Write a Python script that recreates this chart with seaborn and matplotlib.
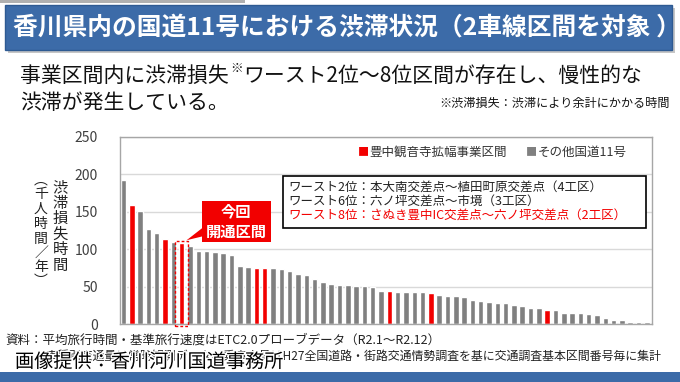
import numpy as np
import pandas as pd
import matplotlib.pyplot as plt
import matplotlib.patches as mpatches
import matplotlib.patheffects as pe
import seaborn as sns

# Data: congestion loss per section, sorted by rank (thousand person-hours / year)
values = [192, 159, 151, 127, 122, 113, 110, 108, 104, 98, 97, 96, 95, 92, 77, 76,
          75, 75, 74.5, 74, 70.5, 67, 65, 60, 56.5, 54, 51.6, 51.5, 51, 51, 49, 44,
          43.6, 43.2, 43.2, 43.2, 42.5, 42, 38.7, 38, 37, 35.7, 32.5, 30.2, 30, 28,
          28, 25.8, 24.7, 21.4, 21, 19, 18.2, 15.1, 15, 14.2, 14, 12, 8, 5.7, 5.3, 3,
          2.7, 2.7]
project_ranks = [2, 6, 8, 17, 18, 33, 38, 52]
group_names = ["豊中観音寺拡幅事業区間", "その他国道11号"]
yticks = [0, 50, 100, 150, 200, 250]

ranks = list(range(1, len(values) + 1))
groups = [group_names[0] if r in project_ranks else group_names[1] for r in ranks]
df = pd.DataFrame({"rank": ranks, "value": values, "group": groups})

RED = "#F20000"
GRAY = "#808080"
palette = {group_names[0]: RED, group_names[1]: GRAY}

sns.set_style("white")
plt.rcParams["font.family"] = ["Noto Sans CJK JP", "DejaVu Sans"]

W, H = 680, 382
fig = plt.figure(figsize=(6.8, 3.82), dpi=100, facecolor="white")
renderer = fig.canvas.get_renderer()


def fx(px):
    return px / W


def fy(py):
    return 1 - py / H


def text_right_px(t):
    # right edge of a text in pixels from the left
    return t.get_window_extent(renderer).x1


# title banner
fig.patches.append(mpatches.Rectangle((fx(0), fy(3)), fx(245), 3 / H, transform=fig.transFigure,
                                      facecolor="#B0B0B0", edgecolor="none"))
fig.patches.append(mpatches.Rectangle((fx(8), fy(53)), fx(667), 45 / H, transform=fig.transFigure,
                                      facecolor="#A0A0A0", edgecolor="none", alpha=0.6))
fig.patches.append(mpatches.Rectangle((fx(5), fy(50)), fx(667), 45 / H, transform=fig.transFigure,
                                      facecolor="#3C6BA8", edgecolor="#2E5A92", linewidth=1))
fig.text(fx(13), fy(28), "香川県内の国道11号における渋滞状況（2車線区間を対象 ）", color="white",
         fontsize=17.8, fontweight="bold", va="center", ha="left")

# lead sentence with superscript mark
t1 = fig.text(fx(20), fy(76), "事業区間内に渋滞損失", fontsize=15, va="center", color="#111111")
x1 = text_right_px(t1)
t2 = fig.text(fx(x1 + 1), fy(69), "※", fontsize=9, va="center", color="#111111")
x2 = text_right_px(t2)
fig.text(fx(x2 + 1), fy(76), "ワースト2位～8位区間が存在し、慢性的な", fontsize=15, va="center",
         color="#111111")
fig.text(fx(20), fy(103), "渋滞が発生している。", fontsize=15, va="center", color="#111111")
fig.text(fx(670), fy(103), "※渋滞損失：渋滞により余計にかかる時間", fontsize=8.7, va="center",
         ha="right", color="#111111")

# chart
ax = fig.add_axes([fx(120), fy(324), fx(652) - fx(120), (324 - 137) / H])
sns.barplot(data=df, x="rank", y="value", hue="group", palette=palette, dodge=False,
            width=0.66, legend=False, ax=ax, saturation=1)
ax.set_xlim(-0.42, 63.62)
ax.set_ylim(0, 250)
ax.set_yticks(yticks)
ax.set_xticks([])
ax.set_xlabel("")
ax.set_ylabel("")
ax.tick_params(axis="y", length=0, pad=16, labelsize=10, labelcolor="#404040")
ax.yaxis.grid(True, color="#D9D9D9", linewidth=1)
ax.set_axisbelow(True)
for s in ax.spines.values():
    s.set_color("#A6A6A6")
    s.set_linewidth(1)

# y label, vertical japanese text in two columns
for i, ch in enumerate("渋滞損失時間"):
    fig.text(fx(60), fy(188 + i * 15.4), ch, fontsize=11, ha="center", va="center",
             color="#222222")
for ch, py in zip("︵千人時間／年︶", [180, 194, 209, 224, 239, 253, 267, 281]):
    fig.text(fx(41), fy(py), ch, fontsize=10, ha="center", va="center", color="#222222")

# legend
fig.text(fx(363), fy(152), "■", color=RED, fontsize=8, ha="center", va="center")
fig.text(fx(369), fy(152), group_names[0], fontsize=9, va="center", color="#333333")
fig.text(fx(531), fy(152), "■", color=GRAY, fontsize=8, ha="center", va="center")
fig.text(fx(538), fy(152), group_names[1], fontsize=9, va="center", color="#333333")

# worst sections box
fig.patches.append(mpatches.Rectangle((fx(283), fy(228)), fx(646) - fx(283), 52 / H,
                                      transform=fig.transFigure, facecolor="white",
                                      edgecolor="black", linewidth=1.2, zorder=5))
box_lines = ["ワースト2位：本大南交差点～植田町原交差点（4工区）",
             "ワースト6位：六ノ坪交差点～市境（3工区）",
             "ワースト8位：さぬき豊中IC交差点～六ノ坪交差点（2工区）"]
for line, py, c in zip(box_lines, [188, 202, 216], ["#222222", "#222222", RED]):
    fig.text(fx(288), fy(py), line, fontsize=9, va="center", color=c, zorder=6)

# highlighted section: dashed frame and callout
ax.add_patch(mpatches.Rectangle((6.2, -3), 1.6, 114, facecolor="none", edgecolor=RED,
                                linestyle=(0, (2, 1.5)), linewidth=1, clip_on=False, zorder=4))
ax.add_patch(mpatches.Polygon([(9.45, 128), (9.45, 117), (7.6, 112)], closed=True,
                              facecolor=RED, edgecolor="none", zorder=4))
ax.add_patch(mpatches.Rectangle((9.4, 110), 8.3, 55, facecolor=RED, edgecolor="none", zorder=4))
ax.text(13.55, 137.5, "今回\n開通区間", color="white", fontsize=11, fontweight="bold",
        ha="center", va="center", linespacing=1.35, zorder=5)

# source notes
fig.text(fx(5), fy(340), "資料：平均旅行時間・基準旅行速度はETC2.0プローブデータ（R2.1～R2.12）",
         fontsize=9, va="center", color="#222222")
fig.text(fx(45), fy(356), "車種別交通量は常時観測データ、乗車人員はH27全国道路・街路交通情勢調査を基に交通調査基本区間番号毎に集計",
         fontsize=8.6, va="center", color="#222222")
fig.text(fx(15), fy(362), "画像提供：香川河川国道事務所", fontsize=13.8, va="center", color="black",
         path_effects=[pe.withStroke(linewidth=2, foreground="white")])
fig.patches.append(mpatches.Rectangle((0, 0), 1, 10 / H, transform=fig.transFigure,
                                      facecolor="#3C6BA8", edgecolor="none"))

fig.savefig("out.png", dpi=100, facecolor="white")
